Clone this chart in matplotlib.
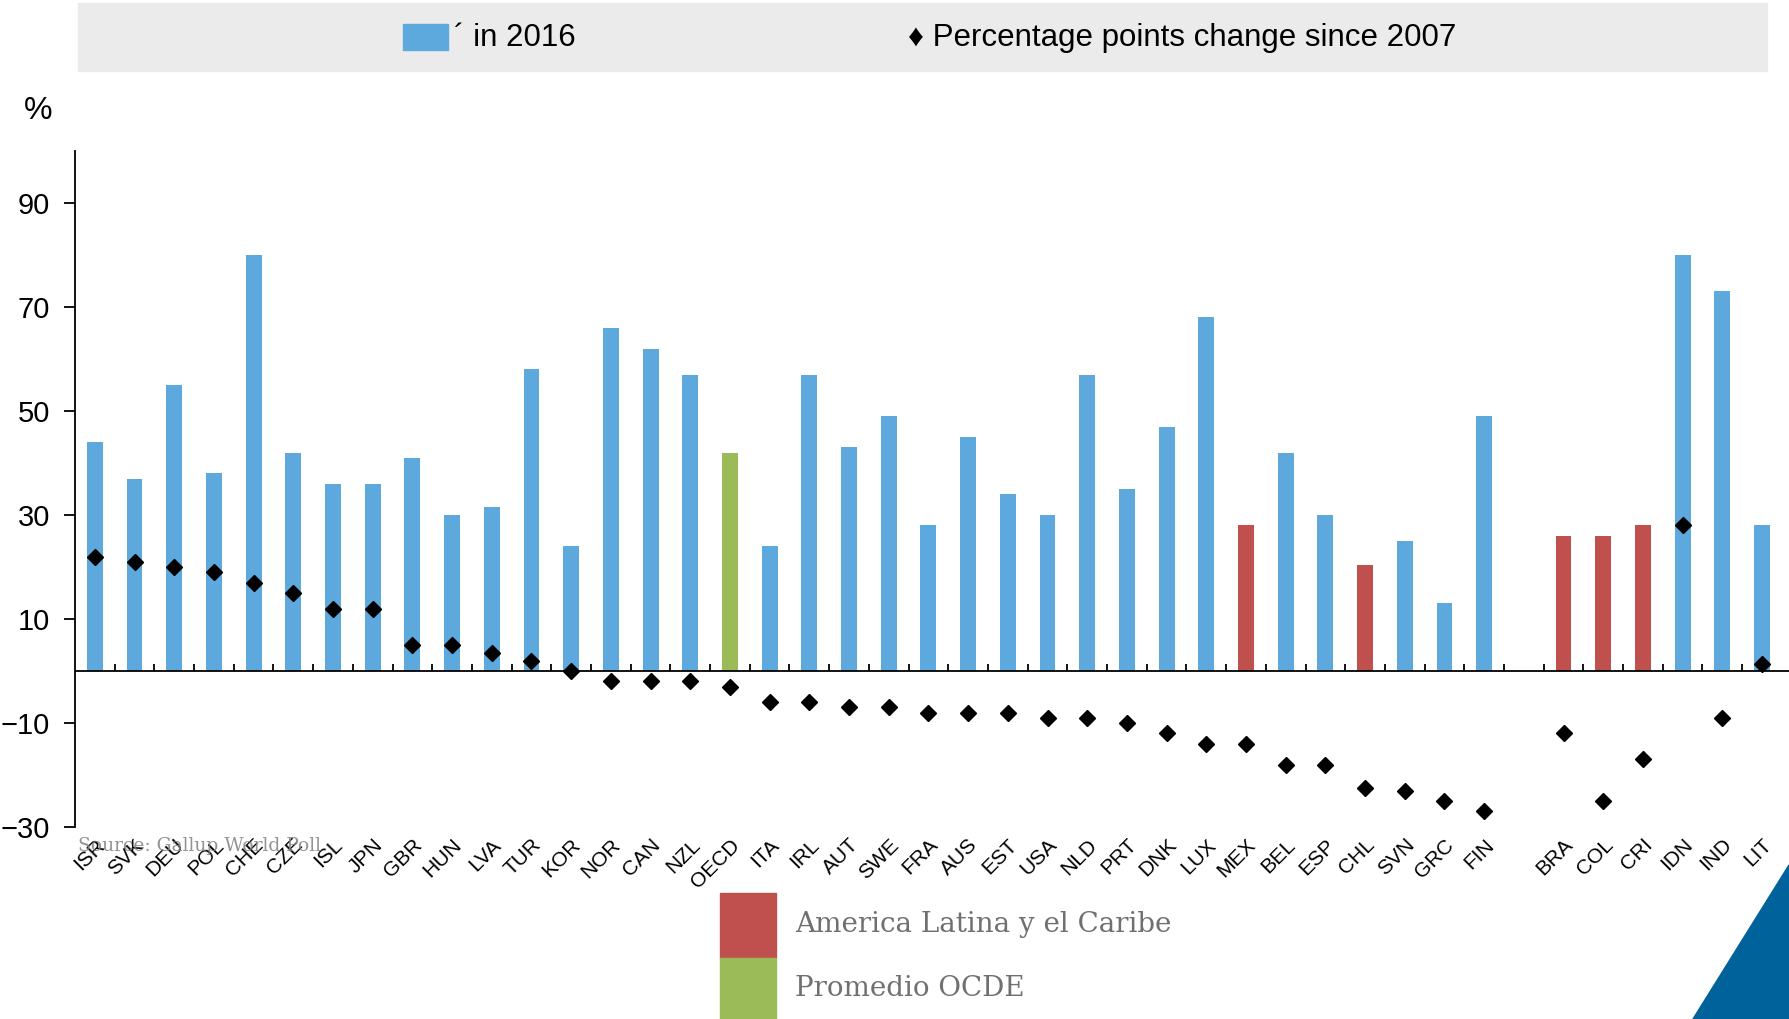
import numpy as np
import matplotlib.pyplot as plt
from matplotlib.patches import Rectangle, Polygon

# data ("" = empty slot between groups)
countries = ["ISR", "SVK", "DEU", "POL", "CHE", "CZE", "ISL", "JPN", "GBR", "HUN",
             "LVA", "TUR", "KOR", "NOR", "CAN", "NZL", "OECD", "ITA", "IRL", "AUT",
             "SWE", "FRA", "AUS", "EST", "USA", "NLD", "PRT", "DNK", "LUX", "MEX",
             "BEL", "ESP", "CHL", "SVN", "GRC", "FIN", "", "BRA", "COL", "CRI",
             "IDN", "IND", "LIT"]
level_2016 = [44, 37, 55, 38, 80, 42, 36, 36, 41, 30,
              31.5, 58, 24, 66, 62, 57, 42, 24, 57, 43,
              49, 28, 45, 34, 30, 57, 35, 47, 68, 28,
              42, 30, 20.3, 25, 13, 49, np.nan, 26, 26, 28,
              80, 73, 28]
change_2007 = [22, 21, 20, 19, 17, 15, 12, 12, 5, 5,
               3.5, 2, 0, -2, -2, -2, -3, -6, -6, -7,
               -7, -8, -8, -8, -9, -9, -10, -12, -14, -14,
               -18, -18, -22.5, -23, -25, -27, np.nan, -12, -25, -17,
               28, -9, 1.3]
latam = ["MEX", "CHL", "BRA", "COL", "CRI"]
oecd_avg = ["OECD"]

BLUE = "#5DA9DD"
RED = "#C0504D"
GREEN = "#9BBB59"

sans = ["Liberation Sans", "DejaVu Sans"]
narrow = ["Liberation Sans Narrow", "Liberation Sans", "DejaVu Sans"]
serif = ["DejaVu Serif"]
plt.rcParams["font.family"] = sans

W, H = 1789, 1019
fig = plt.figure(figsize=(W / 100, H / 100), dpi=100)
ax = fig.add_axes([75 / W, (H - 827) / H, 1 - 75 / W, 676 / H])

x = np.arange(len(countries))
colors = [RED if c in latam else GREEN if c in oecd_avg else BLUE for c in countries]
ax.bar(x, level_2016, width=0.4, color=colors, zorder=2)
ax.plot(x, change_2007, linestyle="none", marker="D", markersize=8.5,
        color="black", zorder=3)

ax.set_xlim(-0.5, len(countries) - 0.32)
ax.set_ylim(-30, 100)
ax.set_yticks([90, 70, 50, 30, 10, -10, -30])
ax.tick_params(axis="y", labelsize=21, length=8, width=1.3, direction="out", pad=10)

ax.set_xticks(x)
ax.set_xticklabels(countries, rotation=45, ha="right", rotation_mode="anchor", fontsize=15)
ax.tick_params(axis="x", length=0, pad=6)

for s in ["top", "right", "bottom"]:
    ax.spines[s].set_visible(False)
ax.spines["left"].set_linewidth(1.3)
ax.axhline(0, color="black", lw=1.3, zorder=4)
ax.vlines(x[:-1] + 0.5, 0, 1.3, color="black", lw=1.3, zorder=4)

# top legend band
fig.patches.append(Rectangle((78 / W, 1 - 71 / H), (1767 - 78) / W, 68 / H,
                             transform=fig.transFigure, color="#EBEBEB", zorder=0))
fig.patches.append(Rectangle((403 / W, 1 - 50 / H), 45 / W, 26 / H,
                             transform=fig.transFigure, color=BLUE))
fig.text(454 / W, 1 - 38 / H, "´ in 2016", fontsize=22.5, family=narrow, va="center")
fig.text(908 / W, 1 - 38 / H, "\u2666 Percentage points change since 2007",
         fontsize=22.5, family=narrow, va="center")

fig.text(24 / W, 1 - 111 / H, "%", fontsize=23, va="center")
fig.text(78 / W, 1 - 846 / H, "Source: Gallup World Poll", fontsize=13.5,
         family=serif, color="#808080", alpha=0.85, va="center")

# bottom legend
fig.patches.append(Rectangle((720 / W, 1 - 958 / H), 56 / W, 65 / H,
                             transform=fig.transFigure, color=RED))
fig.patches.append(Rectangle((720 / W, 0), 56 / W, 61 / H,
                             transform=fig.transFigure, color=GREEN))
fig.text(795 / W, 1 - 925 / H, "America Latina y el Caribe", fontsize=20,
         family=serif, color="#707070", va="center")
fig.text(795 / W, 1 - 988 / H, "Promedio OCDE", fontsize=20,
         family=serif, color="#707070", va="center")

# corner triangle
fig.patches.append(Polygon([(1, 1 - 865 / H), (1693 / W, 0), (1, 0)],
                           transform=fig.transFigure, color="#00629B"))

fig.savefig("out.png", dpi=100)
